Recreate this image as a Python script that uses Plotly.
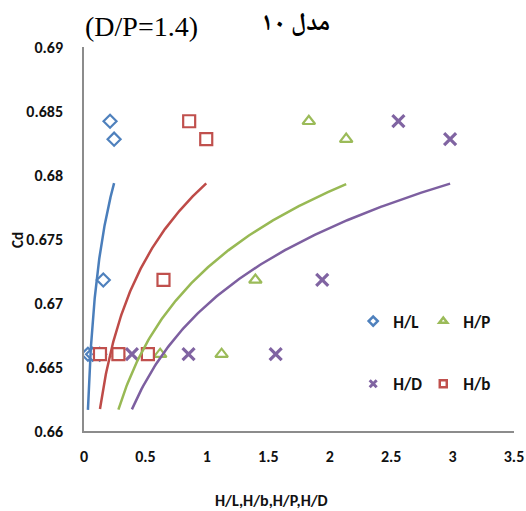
import numpy as np
import plotly.graph_objects as go

# Discharge coefficient readings (model 10, D/P = 1.4)
cd = [0.666, 0.666, 0.666, 0.6718, 0.6842, 0.6828]
h_l = [0.032, 0.07, 0.128, 0.157, 0.212, 0.245]
h_b = [0.13, 0.28, 0.52, 0.647, 0.856, 0.995]
h_p = [0.28, 0.62, 1.12, 1.395, 1.83, 2.134]
h_d = [0.39, 0.851, 1.56, 1.939, 2.559, 2.98]

x_ticks = [0, 0.5, 1, 1.5, 2, 2.5, 3, 3.5]
x_tick_text = ["0", "0.5", "1", "1.5", "2", "2.5", "3", "3.5"]
y_ticks = [0.66, 0.665, 0.67, 0.675, 0.68, 0.685, 0.69]
y_tick_text = ["0.66", "0.665", "0.67", "0.675", "0.68", "0.685", "0.69"]

FONT = "Carlito, Calibri, Roboto Condensed, sans-serif"

# name, x data, marker symbol, marker colour, trend colour, legend id, legend position
series = [
    ("H/L", h_l, "diamond", "#4F81BD", "#4A7EBB", "legend", (0.626, 0.285)),
    ("H/P", h_p, "triangle-up", "#9BBB59", "#98B954", "legend2", (0.789, 0.285)),
    ("H/D", h_d, "x-thin-open", "#8064A2", "#7D5FA0", "legend3", (0.626, 0.122)),
    ("H/b", h_b, "square", "#C0504D", "#BE4B48", "legend4", (0.789, 0.122)),
]

fig = go.Figure()

# measured points (white-filled outlines)
for name, xs, sym, mcol, lcol, leg, _ in series:
    if sym == "x-thin-open":
        mk = dict(symbol=sym, size=12, color=mcol, line=dict(color=mcol, width=3.2))
    else:
        size = {"diamond": 10, "triangle-up": 11, "square": 12}[sym]
        mk = dict(symbol=sym, size=size, color="white", line=dict(color=mcol, width=2.2))
    fig.add_trace(go.Scatter(x=xs, y=cd, mode="markers", name=name, showlegend=False, marker=mk))

# logarithmic trendlines fitted to each series
for name, xs, sym, mcol, lcol, leg, _ in series:
    xs_arr = np.array(xs)
    a, b = np.polyfit(np.log(xs_arr), np.array(cd), 1)
    xf = np.linspace(xs_arr.min(), xs_arr.max(), 200)
    fig.add_trace(go.Scatter(
        x=xf, y=a * np.log(xf) + b, mode="lines",
        line=dict(color=lcol, width=2.5), showlegend=False, hoverinfo="skip",
    ))

# legend entries with smaller symbols
legend_layout = {}
for name, xs, sym, mcol, lcol, leg, (lx, ly) in series:
    if sym == "x-thin-open":
        mk = dict(symbol=sym, size=7, color=mcol, line=dict(color=mcol, width=3))
    else:
        mk = dict(symbol=sym, size=7, color="white", line=dict(color=mcol, width=2.5))
    fig.add_trace(go.Scatter(x=[None], y=[None], mode="markers", name=f"<b>{name}</b>",
                             legend=leg, marker=mk))
    legend_layout[leg] = dict(
        x=lx, y=ly, xanchor="left", yanchor="middle",
        bgcolor="rgba(0,0,0,0)", font=dict(family=FONT, size=17, color="#111"),
        itemsizing="trace",
    )

L, R, T, B = 84, 12, 47, 80
W, H = 526, 511
fig.update_layout(
    width=W, height=H,
    margin=dict(l=L, r=R, t=T, b=B, autoexpand=False),
    paper_bgcolor="white", plot_bgcolor="white",
    font=dict(family=FONT, size=16, color="#111"),
    **legend_layout,
)

# text blocks placed in pixel terms relative to the plot area
pw, ph = W - L - R, H - T - B
def px(xp):
    return (xp - L) / pw
def py(yp):
    return (H - B - yp) / ph

fig.add_annotation(text="(D/P=1.4)", x=px(83), y=py(26), xref="paper", yref="paper",
                   xanchor="left", yanchor="middle", showarrow=False,
                   font=dict(family="Liberation Serif, Times New Roman, serif", size=28, color="#000"))
fig.add_annotation(text="<b>مدل ۱۰</b>", x=px(295), y=py(25), xref="paper", yref="paper",
                   xanchor="center", yanchor="middle", showarrow=False,
                   font=dict(family="Noto Naskh Arabic, DejaVu Sans, serif", size=25, color="#000"))
fig.add_annotation(text="<b>H/L,H/b,H/P,H/D</b>", x=px(271.5), y=py(500), xref="paper", yref="paper",
                   xanchor="center", yanchor="middle", showarrow=False,
                   font=dict(family=FONT, size=16, color="#111"))
fig.add_annotation(text="<b>Cd</b>", x=0, y=py(240), xref="paper", yref="paper",
                   xshift=18 - L, xanchor="center", yanchor="middle", showarrow=False,
                   textangle=-90, font=dict(family=FONT, size=15, color="#111"))

fig.update_xaxes(
    range=[0, 3.5], tickvals=x_ticks, ticktext=[f"<b>{t}</b>" for t in x_tick_text],
    showline=True, linecolor="#8c8c8c", linewidth=1.5, showgrid=False, zeroline=False,
    ticks="", ticklabelstandoff=10, tickfont=dict(family=FONT, size=16, color="#111"),
)
fig.update_yaxes(
    range=[0.66, 0.69], tickvals=y_ticks, ticktext=[f"<b>{t}</b>" for t in y_tick_text],
    showline=True, linecolor="#8c8c8c", linewidth=1.5, showgrid=False, zeroline=False,
    ticks="", ticklabelstandoff=16, tickfont=dict(family=FONT, size=16, color="#111"),
)

fig.write_html("out.html")
